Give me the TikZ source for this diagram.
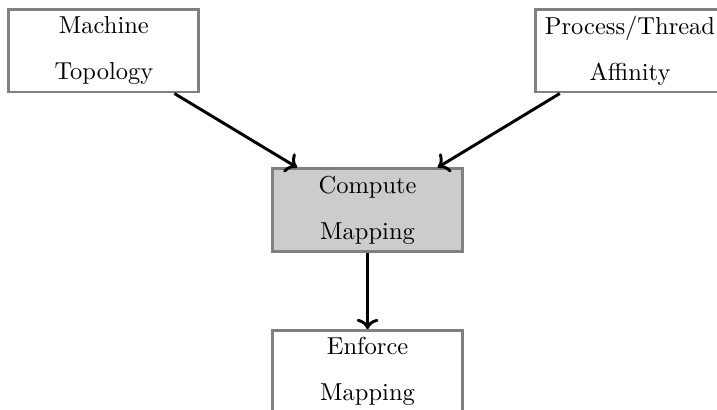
\documentclass[tikz,border=0pt]{standalone}
\usepackage{xcolor}
\usetikzlibrary{positioning,arrows.meta}

\begin{document}
\begin{tikzpicture}[
		box/.style={draw=gray, very thick, minimum width=77.5pt, minimum height=33.5pt, align=center, inner sep=1pt},
		node distance=31.3pt and 136pt]
			\useasboundingbox (0,0) rectangle (292.6pt,-167pt);
			\node[box] (topo) at (42.4pt,-20.8pt) {Machine\\[6.8pt]Topology};
			\node[box, right=of topo] (affin) {Process/Thread\\[6.8pt]Affinity};
			\node[box, fill=gray!40] (comp) at (150pt,-85.7pt) {Compute\\[6.8pt]Mapping};
			\node[box, below=of comp] (enf) {Enforce\\[6.8pt]Mapping};
			\draw[->, very thick] (topo) -- (comp);
			\draw[->, very thick] (affin) -- (comp);
			\draw[->, very thick] (comp) -- (enf);
		\end{tikzpicture}
\end{document}
